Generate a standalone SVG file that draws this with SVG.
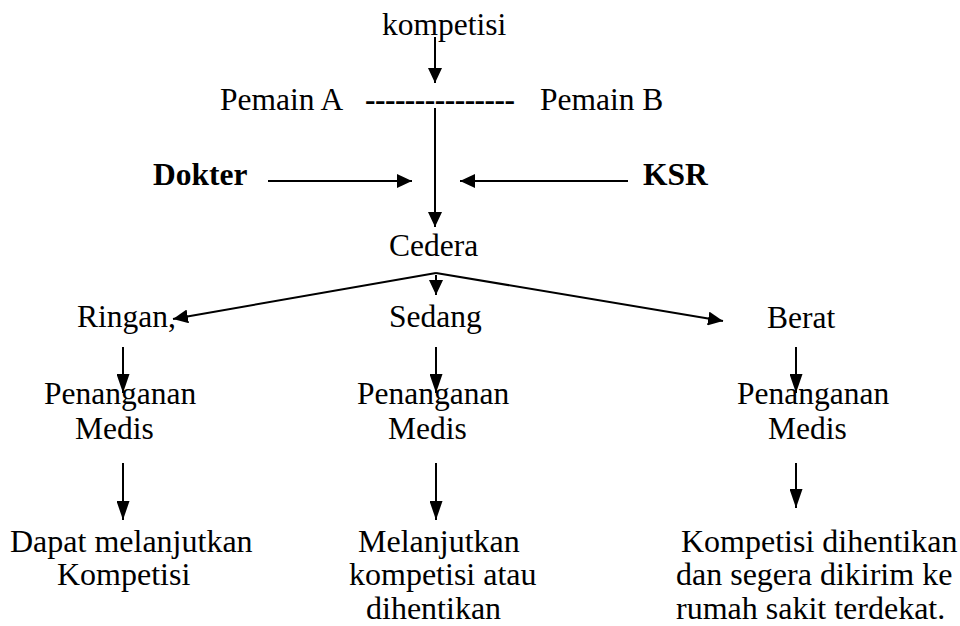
<svg xmlns="http://www.w3.org/2000/svg" width="960" height="626" viewBox="0 0 960 626">
<style>
text{font-family:"Liberation Serif",Tinos,"Times New Roman",Times,"Nimbus Roman","DejaVu Serif",serif;font-size:31.5px;fill:#000}
.b{font-weight:bold}
.L{font-size:32px}
.c line{stroke:#000;stroke-width:2;fill:none}
</style>
<defs>
<marker id="ah" markerUnits="userSpaceOnUse" markerWidth="16" markerHeight="14" refX="15" refY="7" orient="auto"><path d="M0,0 L15,7 L0,14 z" fill="#000"/></marker>
<marker id="an" markerUnits="userSpaceOnUse" markerWidth="20" markerHeight="13" refX="19" refY="6.5" orient="auto"><path d="M0,0 L19,6.5 L0,13 z" fill="#000"/></marker>
</defs>
<rect width="960" height="626" fill="#fff"/>
<g class="c" id="connectors">
<line x1="435" y1="37" x2="435" y2="83" marker-end="url(#ah)"/>
<line x1="435" y1="108" x2="435" y2="227" marker-end="url(#ah)"/>
<line x1="268" y1="181" x2="412" y2="181" marker-end="url(#ah)"/>
<line x1="628" y1="181" x2="460" y2="181" marker-end="url(#ah)"/>
<line x1="436" y1="273" x2="173" y2="319" marker-end="url(#ah)"/>
<line x1="436" y1="273" x2="723" y2="321" marker-end="url(#ah)"/>
<line x1="436" y1="275" x2="436" y2="295" marker-end="url(#ah)"/>
<line x1="123" y1="347" x2="123" y2="393" marker-end="url(#an)"/>
<line x1="436" y1="347" x2="436" y2="393" marker-end="url(#an)"/>
<line x1="796" y1="347" x2="796" y2="393" marker-end="url(#an)"/>
<line x1="123" y1="463" x2="123" y2="520" marker-end="url(#an)"/>
<line x1="436" y1="463" x2="436" y2="520" marker-end="url(#an)"/>
<line x1="796" y1="463" x2="796" y2="508" marker-end="url(#an)"/>
</g>
<g id="kompetisi"><text x="382" y="35">kompetisi</text></g>
<g id="pemainA"><text x="220" y="110">Pemain A</text></g>
<g id="dashes"><text class="b" x="365" y="110" textLength="150">---------------</text></g>
<g id="pemainB"><text x="540" y="110">Pemain B</text></g>
<g id="dokter"><text class="b" x="153" y="185">Dokter</text></g>
<g id="ksr"><text class="b" x="643" y="185">KSR</text></g>
<g id="cedera"><text x="389" y="256">Cedera</text></g>
<g id="ringan"><text x="77" y="327">Ringan,</text></g>
<g id="sedang"><text x="389" y="327">Sedang</text></g>
<g id="berat"><text x="767" y="328">Berat</text></g>
<g id="pm1"><text x="44" y="404">Penanganan</text><text x="75" y="439">Medis</text></g>
<g id="pm2"><text x="357" y="404">Penanganan</text><text x="388" y="439">Medis</text></g>
<g id="pm3"><text x="737" y="404">Penanganan</text><text x="768" y="439">Medis</text></g>
<g id="hasil1" class="L"><text class="L" x="10" y="552">Dapat melanjutkan</text><text class="L" x="57" y="585">Kompetisi</text></g>
<g id="hasil2"><text class="L" x="358" y="552">Melanjutkan</text><text class="L" x="349" y="585">kompetisi atau</text><text class="L" x="366" y="619">dihentikan</text></g>
<g id="hasil3"><text class="L" x="681" y="552">Kompetisi dihentikan</text><text class="L" x="676" y="585">dan segera dikirim ke</text><text class="L" x="676" y="619">rumah sakit terdekat.</text></g>
</svg>
